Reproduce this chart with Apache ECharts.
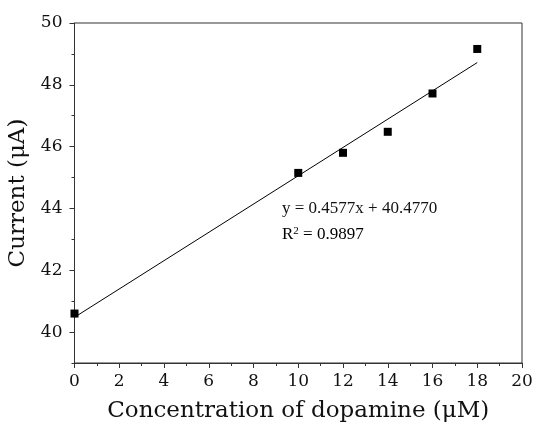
<!DOCTYPE html>
<html><head><meta charset="utf-8">
<script src="https://cdn.jsdelivr.net/npm/echarts@6/dist/echarts.min.js"></script>
<style>html,body{margin:0;padding:0;background:#fff}#c{width:536px;height:424px}</style>
</head><body><div id="c"></div>
<script>
const concentrations = [0, 10, 12, 14, 16, 18];
const currents = [40.60, 45.15, 45.80, 46.48, 47.72, 49.16];
const fitX = [0, 18];
const fitY = [40.48, 48.72];
const yTickLabels = [40, 42, 44, 46, 48, 50];
const xTitle = 'Concentration of dopamine (μM)';
const yTitle = 'Current (μA)';
const eqLine = 'y = 0.4577x + 40.4770';
const r2Value = '0.9897';

const FONT = '"DejaVu Serif", "Liberation Serif", serif';
const EQFONT = '"Liberation Serif", "DejaVu Serif", serif';
const chart = echarts.init(document.getElementById('c'));
chart.setOption({
  animation: false,
  backgroundColor: '#fff',
  grid: {left: 74.5, right: 14, top: 23, bottom: 61, outerBoundsMode: 'none', containLabel: false, show: true, borderColor: '#333', borderWidth: 1, backgroundColor: 'transparent'},
  xAxis: {
    type: 'value', min: 0, max: 20, interval: 2,
    name: xTitle, nameLocation: 'middle', nameGap: 37,
    nameTextStyle: {fontFamily: FONT, fontSize: 23, color: '#111'},
    axisLine: {show: true, onZero: false, lineStyle: {color: '#333', width: 1}},
    axisTick: {show: true, inside: false, length: 5, lineStyle: {color: '#333'}},
    minorTick: {show: true, splitNumber: 2, length: 3, lineStyle: {color: '#333'}},
    axisLabel: {fontFamily: FONT, fontSize: 17, color: '#111', margin: 10},
    splitLine: {show: false}
  },
  yAxis: [{
    type: 'value', min: 39, max: 50, interval: 1,
    name: yTitle, nameLocation: 'middle', nameGap: 40,
    nameTextStyle: {fontFamily: FONT, fontSize: 23, color: '#111'},
    axisLine: {show: true, onZero: false, lineStyle: {color: '#333', width: 1}},
    axisTick: {show: true, inside: false, length: 5, customValues: yTickLabels, lineStyle: {color: '#333'}},
    axisLabel: {fontFamily: FONT, fontSize: 17, color: '#111', margin: 12, customValues: yTickLabels},
    splitLine: {show: false}
  }, {
    type: 'value', min: 39, max: 50, interval: 1, position: 'left',
    axisLine: {show: false},
    axisTick: {show: true, inside: false, length: 3, lineStyle: {color: '#333'}},
    axisLabel: {show: false},
    splitLine: {show: false}
  }],
  series: [{
    type: 'line', yAxisIndex: 0,
    data: fitX.map((x, i) => [x, fitY[i]]),
    symbol: 'none', lineStyle: {color: '#000', width: 1}, silent: true
  }, {
    type: 'scatter', yAxisIndex: 0,
    data: concentrations.map((x, i) => [x, currents[i]]),
    symbol: 'rect', symbolSize: 8, itemStyle: {color: '#000', opacity: 1}
  }],
  graphic: [{
    type: 'text', left: 282, top: 200,
    style: {text: eqLine, font: '17px ' + EQFONT, fill: '#111'}
  }, {
    type: 'text', left: 282, top: 226,
    style: {
      text: '{a|R}{s|2}{a| = ' + r2Value + '}',
      rich: {
        a: {fontFamily: EQFONT, fontSize: 17, color: '#111'},
        s: {fontFamily: EQFONT, fontSize: 11, color: '#111', verticalAlign: 'top', padding: [0, 0, 7, 0]}
      }
    }
  }]
});
</script></body></html>
